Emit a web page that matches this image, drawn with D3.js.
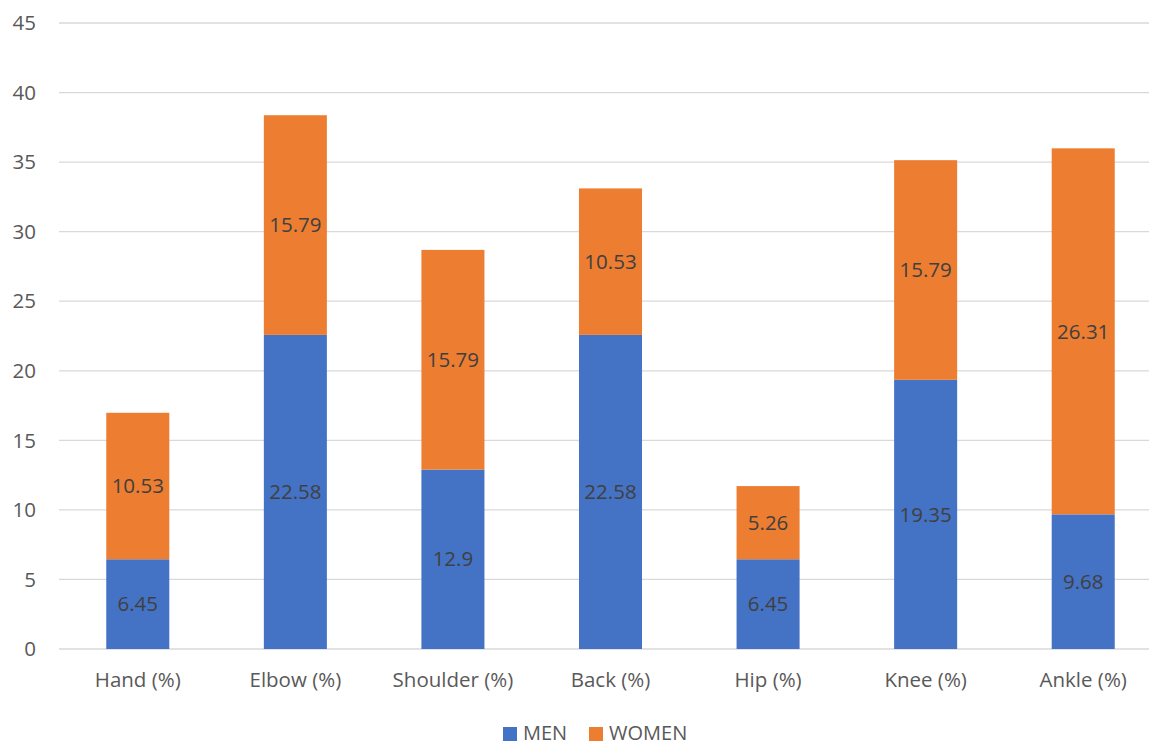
<!DOCTYPE html>
<html><head><meta charset="utf-8">
<script src="https://cdn.jsdelivr.net/npm/d3@7"></script>
<style>body{margin:0;background:#fff;overflow:hidden}svg{display:block}</style>
</head><body>
<svg id="c" width="1149" height="745"></svg>
<script>
const categories = ["Hand (%)","Elbow (%)","Shoulder (%)","Back (%)","Hip (%)","Knee (%)","Ankle (%)"];
const men = [6.45, 22.58, 12.9, 22.58, 6.45, 19.35, 9.68];
const women = [10.53, 15.79, 15.79, 10.53, 5.26, 15.79, 26.31];
const seriesNames = ["MEN","WOMEN"];
const colors = ["#4472C4","#ED7D31"];
const yTicks = [0,5,10,15,20,25,30,35,40,45];

const svg = d3.select("#c");
const font = "'Open Sans', sans-serif";
const fs = 20.5;
const x = d3.scaleBand().domain(categories).range([59, 1162]).paddingInner(0.6).paddingOuter(0.3);
const y = d3.scaleLinear().domain([0,45]).range([649, 23]);

// gridlines
svg.append("g").selectAll("line").data(yTicks).join("line")
  .attr("x1",59).attr("x2",1162)
  .attr("y1",d=>y(d)).attr("y2",d=>y(d))
  .attr("stroke","#D9D9D9").attr("stroke-width",1.3);

// y labels
svg.append("g").selectAll("text").data(yTicks).join("text")
  .attr("x",36).attr("y",d=>y(d)).attr("dy","0.35em")
  .attr("text-anchor","end").attr("font-family",font).attr("font-size",fs).attr("fill","#595959")
  .text(d=>d);

const data = categories.map((c,i)=>({c, vals:[men[i], women[i]]}));
const stacked = d3.stack().keys([0,1]).value((d,k)=>d.vals[k])(data);

const g = svg.append("g");
stacked.forEach((layer,k)=>{
  g.append("g").selectAll("rect").data(layer).join("rect")
    .attr("x",d=>x(d.data.c)).attr("width",x.bandwidth())
    .attr("y",d=>y(d[1])).attr("height",d=>y(d[0])-y(d[1]))
    .attr("fill",colors[k]);
});
stacked.forEach((layer,k)=>{
  g.append("g").selectAll("text").data(layer).join("text")
    .attr("x",d=>x(d.data.c)+x.bandwidth()/2)
    .attr("y",d=>(y(d[0])+y(d[1]))/2).attr("dy","0.35em")
    .attr("text-anchor","middle").attr("font-family",font).attr("font-size",fs).attr("fill","#404040")
    .text(d=>d.data.vals[k]);
});

// x labels
svg.append("g").selectAll("text").data(categories).join("text")
  .attr("x",d=>x(d)+x.bandwidth()/2).attr("y",680).attr("dy","0.35em")
  .attr("text-anchor","middle").attr("font-family",font).attr("font-size",fs).attr("fill","#595959")
  .text(d=>d);

// legend
const leg = svg.append("g");
const legX = [503, 589];
seriesNames.forEach((n,i)=>{
  leg.append("rect").attr("x",legX[i]).attr("y",727).attr("width",14).attr("height",14).attr("fill",colors[i]);
  leg.append("text").attr("x",legX[i]+20).attr("y",740)
    .attr("font-family",font).attr("font-size",20).attr("fill","#595959").text(n);
});
</script>
</body></html>
